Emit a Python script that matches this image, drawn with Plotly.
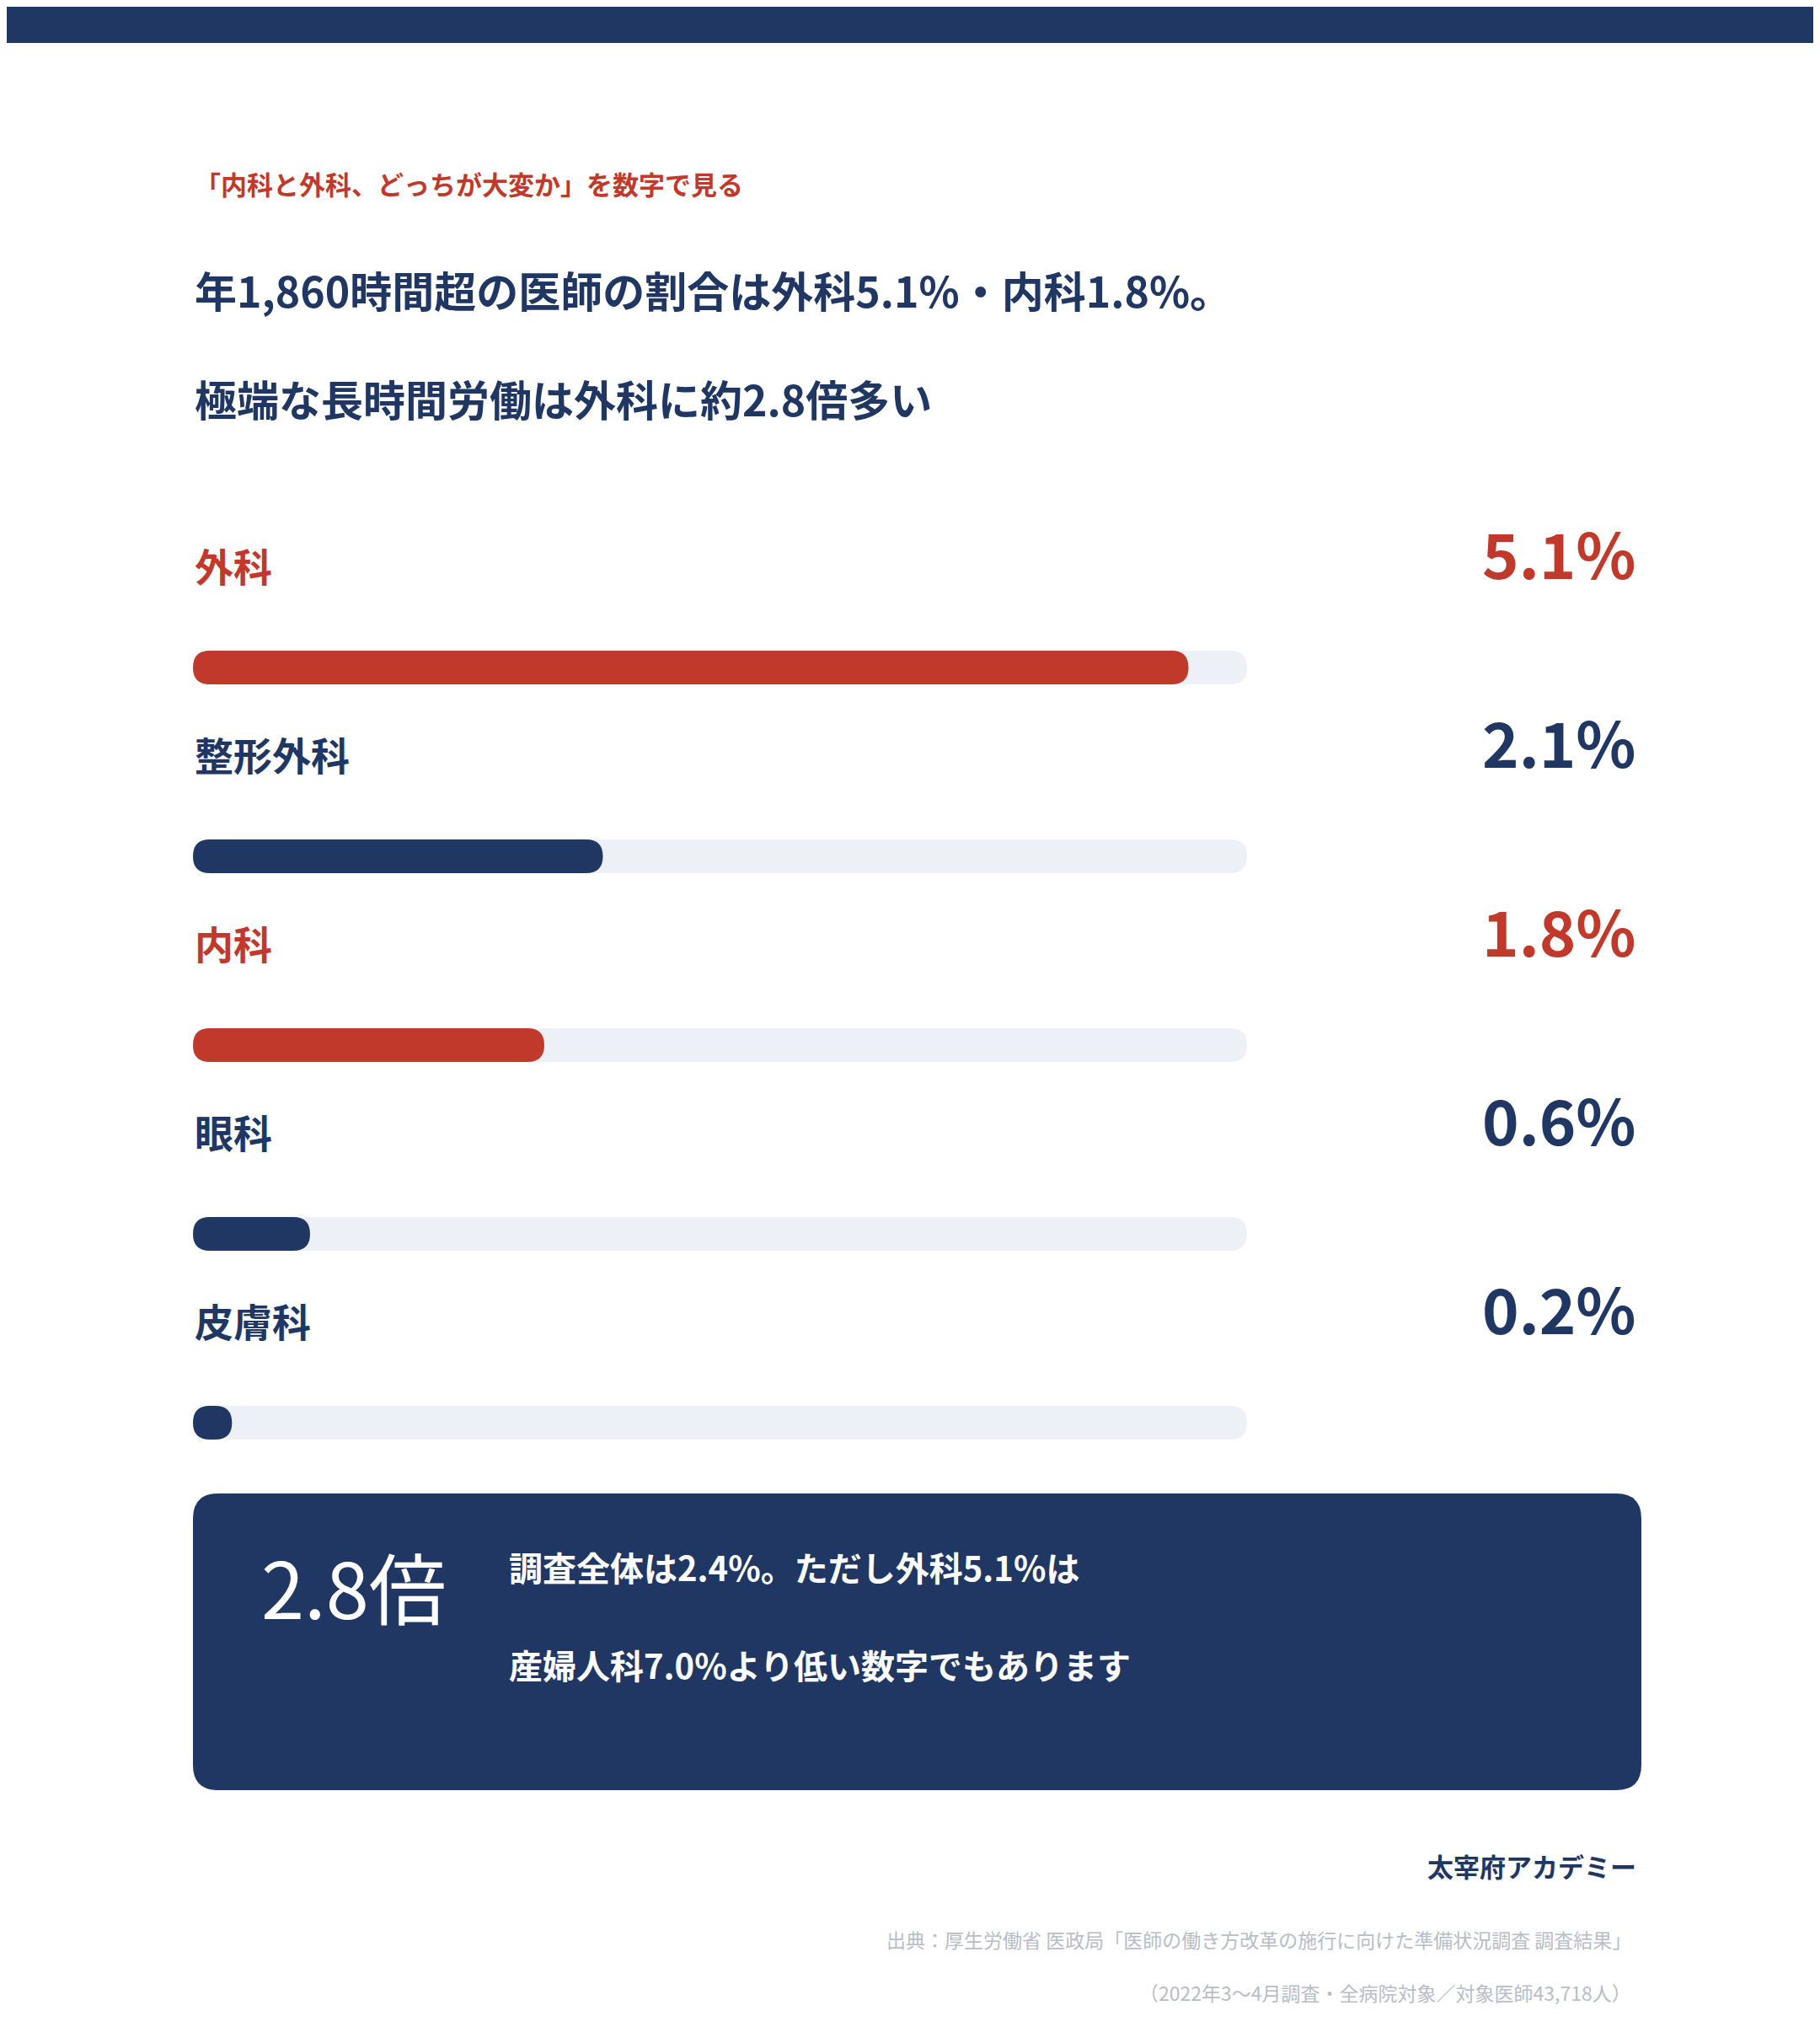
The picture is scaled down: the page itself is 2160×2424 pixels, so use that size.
import plotly.graph_objects as go

W, H = 2160, 2424
NAVY = "#1f3762"
RED = "#c0392b"
TRACK = "#edf0f7"
FONT = "Noto Sans CJK JP"

# データ
departments = ["外科", "整形外科", "内科", "眼科", "皮膚科"]
values = [5.1, 2.1, 1.8, 0.6, 0.2]
highlight = [True, False, True, False, False]
scale_max = 5.4

fig = go.Figure()
fig.add_trace(go.Scatter(x=[0, W], y=[0, H], mode="markers", marker=dict(opacity=0), hoverinfo="skip"))

shapes = []
ann = []


def rounded(x0, y0, x1, y1, r):
    r = min(r, (x1 - x0) / 2, (y1 - y0) / 2)
    return (f"M{x0+r},{y0} L{x1-r},{y0} Q{x1},{y0} {x1},{y0+r} L{x1},{y1-r} "
            f"Q{x1},{y1} {x1-r},{y1} L{x0+r},{y1} Q{x0},{y1} {x0},{y1-r} "
            f"L{x0},{y0+r} Q{x0},{y0} {x0+r},{y0} Z")


def text(x, y, t, size, color, anchor="left", bold=True):
    ann.append(dict(x=x, y=y, xref="x", yref="y", text=f"<b>{t}</b>" if bold else t,
                    showarrow=False, xanchor=anchor, yanchor="middle",
                    font=dict(family=FONT, size=size, color=color)))


# 上部の帯
shapes.append(dict(type="rect", x0=0, x1=W, y0=0, y1=43, fillcolor=NAVY, line_width=0))

text(221, 209, "「内科と外科、どっちが大変か」を数字で見る", 31, RED)
text(221, 335, "年1,860時間超の医師の割合は外科5.1%・内科1.8%。", 50, NAVY)
text(221, 464, "極端な長時間労働は外科に約2.8倍多い", 50, NAVY)

tx0, tx1, bh = 221, 1472, 40
for i, (d, v, hl) in enumerate(zip(departments, values, highlight)):
    c = RED if hl else NAVY
    ly = 662 + i * 224
    by = 784 + i * 224
    text(221, ly, d, 46, c)
    text(1936, ly - 16, f"{v}%", 74, c, anchor="right")
    shapes.append(dict(type="path", path=rounded(tx0, by - bh / 2, tx1, by + bh / 2, bh / 2),
                       fillcolor=TRACK, line_width=0))
    xe = max(tx0 + v / scale_max * (tx1 - tx0), tx0 + bh + 6)
    shapes.append(dict(type="path", path=rounded(tx0, by - bh / 2, xe, by + bh / 2, bh / 2),
                       fillcolor=c, line_width=0))

# まとめボックス
shapes.append(dict(type="path", path=rounded(221, 1764, 1940, 2116, 30), fillcolor=NAVY, line_width=0))
text(300, 1872, "2.8倍", 92, "white", bold=False)
text(594, 1851, "調査全体は2.4%。ただし外科5.1%は", 40, "white")
text(594, 1967, "産婦人科7.0%より低い数字でもあります", 40, "white")

text(1936, 2205, "太宰府アカデミー", 31, NAVY, anchor="right")
text(1930, 2293, "出典：厚生労働省 医政局「医師の働き方改革の施行に向けた準備状況調査 調査結果」", 23, "#b8bcc6", anchor="right", bold=False)
text(1930, 2356, "（2022年3〜4月調査・全病院対象／対象医師43,718人）", 23, "#b8bcc6", anchor="right", bold=False)

fig.update_layout(
    width=W, height=H, margin=dict(l=0, r=0, t=0, b=0),
    paper_bgcolor="white", plot_bgcolor="white", showlegend=False,
    xaxis=dict(range=[0, W], visible=False, fixedrange=True),
    yaxis=dict(range=[H, 0], visible=False, fixedrange=True),
    shapes=shapes, annotations=ann,
)
fig.write_html("out.html")
